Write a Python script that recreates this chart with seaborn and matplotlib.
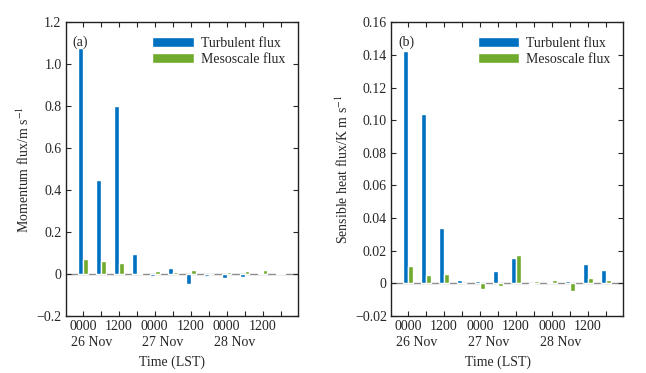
import numpy as np
import pandas as pd
import matplotlib
matplotlib.use('Agg')
import matplotlib.pyplot as plt
import seaborn as sns

times = ['26-00', '26-06', '26-12', '26-18', '27-00', '27-06', '27-12', '27-18',
         '28-00', '28-06', '28-12', '28-18']
tick_labels = ['0000', '', '1200', '', '0000', '', '1200', '', '0000', '', '1200', '']
date_labels = ['26 Nov', '27 Nov', '28 Nov']
date_pos = [0, 4, 8]

mom_turb = [1.077, 0.45, 0.80, 0.097, -0.008, 0.027, -0.048, -0.010, -0.020, -0.012, 0.004, 0.006]
mom_meso = [0.072, 0.062, 0.052, 0.005, 0.012, 0.010, 0.017, 0.002, 0.008, 0.012, 0.020, 0.006]
heat_turb = [0.1422, 0.1036, 0.0341, 0.0023, 0.0015, 0.0078, 0.0154, -0.0005, 0.0010, 0.0015, 0.0117, 0.0083]
heat_meso = [0.0105, 0.0048, 0.0055, 0.0002, -0.0032, -0.0018, 0.0175, 0.0015, 0.0023, -0.0045, 0.0030, 0.0020]

series = ['Turbulent flux', 'Mesoscale flux']
colors = ['#0070C0', '#70AB2E']

sns.set_style('ticks')
plt.rcParams['font.family'] = ['Liberation Serif', 'DejaVu Serif']
plt.rcParams['mathtext.fontset'] = 'stix'
plt.rcParams['font.size'] = 10

fig = plt.figure(figsize=(6.46, 3.73), dpi=100)
ax_a = fig.add_axes([0.1017, 0.153, 0.3591, 0.787])
ax_b = fig.add_axes([0.6053, 0.153, 0.3591, 0.787])


def make_df(turb, meso):
    return pd.DataFrame({
        'time': times * 2,
        'value': turb + meso,
        'kind': [series[0]] * len(times) + [series[1]] * len(times),
    })


def draw(ax, turb, meso, ylim, yticks, ylabel, tag):
    df = make_df(turb, meso)
    sns.barplot(data=df, x='time', y='value', hue='kind', order=times, hue_order=series,
                palette=colors, width=0.54, gap=0, saturation=1, errorbar=None, ax=ax)
    ax.axhline(0, color='#8c8c8c', lw=1, zorder=0.5)
    ax.set_xlim(-0.95, 11.95)
    ax.set_ylim(*ylim)
    ax.set_yticks(yticks)
    ax.set_xticks(range(len(times)))
    ax.set_xticklabels(tick_labels)
    ax.tick_params(direction='in', top=True, right=True, length=3.5, width=0.8, labelsize=10, pad=3)
    for s in ax.spines.values():
        s.set_linewidth(1.0)
        s.set_color('#222222')
    for p, d in zip(date_pos, date_labels):
        ax.text(p - 0.68, -0.09, d, transform=ax.get_xaxis_transform(), ha='left', va='center', fontsize=10)
    ax.set_xlabel('Time (LST)', fontsize=10)
    ax.xaxis.set_label_coords(0.46, -0.135)
    ax.set_ylabel(ylabel, fontsize=10, labelpad=3)
    ax.text(0.03, 0.955, tag, transform=ax.transAxes, ha='left', va='top', fontsize=10)
    ax.legend(loc='upper right', bbox_to_anchor=(0.97, 0.97), frameon=False, fontsize=10,
              handlelength=3.0, handleheight=0.7, borderaxespad=0, labelspacing=0.25, handletextpad=0.5)


draw(ax_a, mom_turb, mom_meso, (-0.2, 1.2), [-0.2, 0, 0.2, 0.4, 0.6, 0.8, 1.0, 1.2],
     'Momentum flux/m s$^{-1}$', '(a)')
ax_a.set_yticklabels(['\u22120.2', '0', '0.2', '0.4', '0.6', '0.8', '1.0', '1.2'])
draw(ax_b, heat_turb, heat_meso, (-0.02, 0.16), [-0.02, 0, 0.02, 0.04, 0.06, 0.08, 0.10, 0.12, 0.14, 0.16],
     'Sensible heat flux/K m s$^{-1}$', '(b)')
ax_b.set_yticklabels(['\u22120.02', '0', '0.02', '0.04', '0.06', '0.08', '0.10', '0.12', '0.14', '0.16'])

fig.savefig('out.png', dpi=100)
